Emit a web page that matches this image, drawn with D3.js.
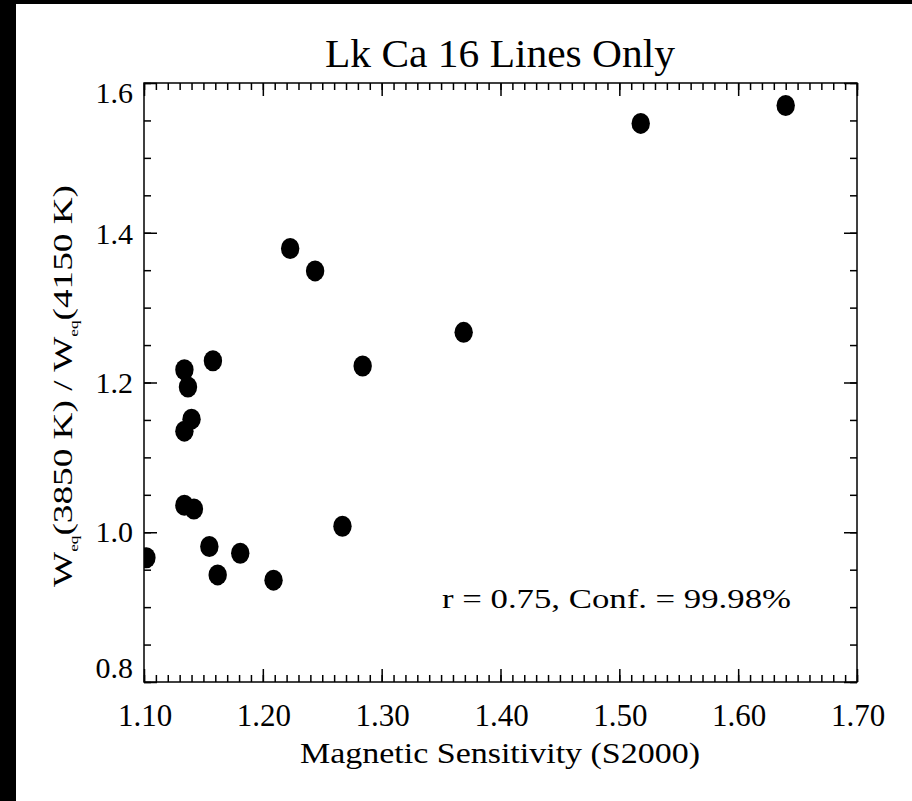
<!DOCTYPE html>
<html>
<head>
<meta charset="utf-8">
<script src="https://cdn.jsdelivr.net/npm/d3@7"></script>
<style>
  html, body { margin: 0; padding: 0; background: #fff; }
  svg { display: block; }
  text { font-family: "Liberation Serif", "DejaVu Serif", serif; fill: #000; }
</style>
</head>
<body>
<svg id="chart" width="912" height="801"></svg>
<script>
// magnetic sensitivity (S2000) for each line
const sensitivity = [1.102, 1.134, 1.137, 1.140, 1.134, 1.134, 1.142, 1.158, 1.155, 1.162,
                     1.181, 1.209, 1.223, 1.244, 1.267, 1.284, 1.369, 1.518, 1.640];
// W_eq(3850 K) / W_eq(4150 K)
const ratio = [0.966, 1.217, 1.194, 1.151, 1.135, 1.036, 1.031, 1.229, 0.981, 0.943,
               0.972, 0.936, 1.379, 1.349, 1.008, 1.222, 1.267, 1.546, 1.570];

const xTicks = [1.10, 1.20, 1.30, 1.40, 1.50, 1.60, 1.70];
const xTickLabels = ["1.10", "1.20", "1.30", "1.40", "1.50", "1.60", "1.70"];
const yTicks = [0.8, 1.0, 1.2, 1.4, 1.6];
const yTickLabels = ["0.8", "1.0", "1.2", "1.4", "1.6"];

const titleText = "Lk Ca 16 Lines Only";
const xTitle = "Magnetic Sensitivity (S2000)";
const noteText = "r = 0.75, Conf. = 99.98%";

const svg = d3.select("#chart");
const W = 912, H = 801;
const plot = { left: 144, right: 857, top: 83, bottom: 682 };

const x = d3.scaleLinear().domain([1.10, 1.70]).range([plot.left, plot.right]);
const y = d3.scaleLinear().domain([0.8, 1.6]).range([plot.bottom, plot.top]);

// background + black frame strips
svg.append("rect").attr("width", W).attr("height", H).attr("fill", "#fff");
svg.append("rect").attr("x", 0).attr("y", 0).attr("width", 16).attr("height", H).attr("fill", "#000");
svg.append("rect").attr("x", 0).attr("y", 0).attr("width", W).attr("height", 4).attr("fill", "#000");

// minor ticks (all four sides)
const xMinor = d3.range(110, 171).map(v => v / 100);
const yMinor = d3.range(16, 33).map(v => v / 20);

function tickAxis(axisFn, scale, values, size, tx, ty) {
  const g = svg.append("g")
    .attr("transform", `translate(${tx},${ty})`)
    .call(axisFn(scale).tickValues(values).tickSize(size).tickSizeOuter(0).tickFormat(""));
  g.select(".domain").remove();
  g.selectAll(".tick line").attr("stroke", "#000").attr("stroke-width", 1.5);
  return g;
}

tickAxis(d3.axisBottom, x, xMinor, -7, 0, plot.bottom);
tickAxis(d3.axisTop, x, xMinor, -7, 0, plot.top);
tickAxis(d3.axisLeft, y, yMinor, -7, plot.left, 0);
tickAxis(d3.axisRight, y, yMinor, -7, plot.right, 0);

tickAxis(d3.axisBottom, x, xTicks, -13, 0, plot.bottom);
tickAxis(d3.axisTop, x, xTicks, -13, 0, plot.top);
tickAxis(d3.axisLeft, y, yTicks, -13, plot.left, 0);
tickAxis(d3.axisRight, y, yTicks, -13, plot.right, 0);

// plot frame
svg.append("rect")
  .attr("x", plot.left).attr("y", plot.top)
  .attr("width", plot.right - plot.left).attr("height", plot.bottom - plot.top)
  .attr("fill", "none").attr("stroke", "#000").attr("stroke-width", 1.5);

// tick labels
svg.append("g").selectAll("text")
  .data(xTicks)
  .join("text")
  .attr("x", d => x(d) + 1)
  .attr("y", plot.bottom + 44)
  .attr("text-anchor", "middle")
  .attr("font-size", 31)
  .text((d, i) => xTickLabels[i]);

// end labels sit inside the axis range, like the original
const yShift = [-4, 10, 10, 11, 20];
svg.append("g").selectAll("text")
  .data(yTicks)
  .join("text")
  .attr("x", plot.left - 11)
  .attr("y", (d, i) => y(d) + yShift[i])
  .attr("text-anchor", "end")
  .attr("font-size", 30)
  .text((d, i) => yTickLabels[i]);

// points, clipped to the plot box
svg.append("clipPath").attr("id", "clip")
  .append("rect")
  .attr("x", plot.left).attr("y", plot.top)
  .attr("width", plot.right - plot.left).attr("height", plot.bottom - plot.top);

svg.append("g").attr("clip-path", "url(#clip)")
  .selectAll("ellipse")
  .data(sensitivity.map((s, i) => ({ s, r: ratio[i] })))
  .join("ellipse")
  .attr("cx", d => x(d.s))
  .attr("cy", d => y(d.r))
  .attr("rx", 9.2)
  .attr("ry", 10.5)
  .attr("fill", "#000");

// title
svg.append("text")
  .attr("x", 500).attr("y", 67)
  .attr("text-anchor", "middle")
  .attr("font-size", 39)
  .attr("textLength", 350).attr("lengthAdjust", "spacingAndGlyphs")
  .text(titleText);

// x axis title
svg.append("text")
  .attr("x", 500).attr("y", 763)
  .attr("text-anchor", "middle")
  .attr("font-size", 30)
  .attr("textLength", 400).attr("lengthAdjust", "spacingAndGlyphs")
  .text(xTitle);

// y axis title with subscripts
const yt = svg.append("text")
  .attr("transform", "translate(72,386) rotate(-90)")
  .attr("text-anchor", "middle")
  .attr("font-size", 28)
  .attr("textLength", 402).attr("lengthAdjust", "spacingAndGlyphs");
yt.append("tspan").text("W");
yt.append("tspan").attr("font-size", 13).attr("dy", 6).text("eq");
yt.append("tspan").attr("dy", -6).text("(3850 K) / W");
yt.append("tspan").attr("font-size", 13).attr("dy", 6).text("eq");
yt.append("tspan").attr("dy", -6).text("(4150 K)");

// correlation note
svg.append("text")
  .attr("x", 442).attr("y", 608)
  .attr("font-size", 27)
  .attr("textLength", 349).attr("lengthAdjust", "spacingAndGlyphs")
  .text(noteText);
</script>
</body>
</html>
